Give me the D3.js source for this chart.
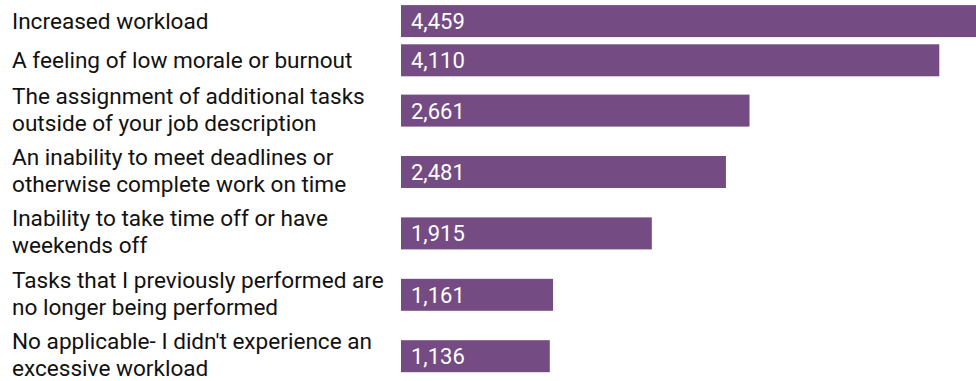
<!DOCTYPE html>
<html>
<head>
<meta charset="utf-8">
<script src="https://cdn.jsdelivr.net/npm/d3@7"></script>
<style>
  body { margin: 0; background: #fff; }
  svg { display: block; font-family: Roboto, sans-serif; }
</style>
</head>
<body>
<svg></svg>
<script>
var width = 976;
var height = 381;

// label lines, one array per bar
var categories = [
  ["Increased workload"],
  ["A feeling of low morale or burnout"],
  ["The assignment of additional tasks", "outside of your job description"],
  ["An inability to meet deadlines or", "otherwise complete work on time"],
  ["Inability to take time off or have", "weekends off"],
  ["Tasks that I previously performed are", "no longer being performed"],
  ["No applicable- I didn't experience an", "excessive workload"]
];
var values = [4459, 4110, 2661, 2481, 1915, 1161, 1136];

var barLeft = 401;
var barHeight = 32;
var lineHeight = 27;

// rows are taller when the label wraps onto two lines
var rowTops = [];
var acc = 1.5;
categories.forEach(function (c) {
  rowTops.push(acc);
  acc += 17 + 22.2 * c.length;
});
var rowCenter = (d, i) => rowTops[i] + (17 + 22.2 * categories[i].length) / 2;

var xScale = d3.scaleLinear()
  .domain([0, 4459])
  .range([barLeft, barLeft + 584]);

var fmt = d3.format(",");

var svg = d3.select("svg")
    .attr("width", width)
    .attr("height", height);

var rows = svg.selectAll("g.row")
  .data(values)
  .enter()
  .append("g")
    .attr("class", "row");

rows.append("rect")
    .attr("x", xScale(0))
    .attr("y", (d, i) => rowCenter(d, i) - barHeight / 2)
    .attr("width", d => xScale(d) - xScale(0))
    .attr("height", barHeight)
    .attr("fill", "#744b82");

rows.append("text")
    .attr("x", xScale(0) + 10)
    .attr("y", (d, i) => rowCenter(d, i))
    .attr("dy", "0.36em")
    .attr("fill", "#fff")
    .attr("font-size", 22)
    .text(d => fmt(d));

rows.append("text")
    .attr("x", 12)
    .attr("y", (d, i) => rowCenter(d, i) + 8 - 15 * (categories[i].length - 1))
    .attr("fill", "#111")
    .attr("font-size", 22.6)
  .selectAll("tspan")
  .data((d, i) => categories[i])
  .enter()
  .append("tspan")
    .attr("x", 12)
    .attr("dy", (d, j) => j === 0 ? 0 : lineHeight)
    .text(d => d);
</script>
</body>
</html>
